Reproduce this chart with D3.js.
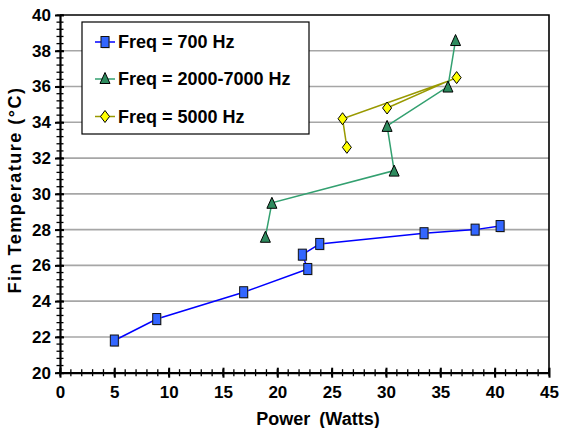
<!DOCTYPE html>
<html><head><meta charset="utf-8">
<script src="https://cdn.jsdelivr.net/npm/d3@7/dist/d3.min.js"></script>
<style>html,body{margin:0;padding:0;background:#fff;}svg{display:block;font-family:"Liberation Sans",Arial,sans-serif;font-weight:bold;}</style>
</head><body>
<svg id="c" width="562" height="428"></svg>
<script>
// ---- data ----
const seriesNames = ["Freq = 700 Hz", "Freq = 2000-7000 Hz", "Freq = 5000 Hz"];
const blueX = [5.0, 8.9, 16.9, 22.8, 22.3, 23.9, 33.5, 38.2, 40.5];
const blueY = [21.8, 23.0, 24.5, 25.8, 26.6, 27.2, 27.8, 28.0, 28.2];
const greenX = [18.9, 19.5, 30.75, 30.1, 35.7, 36.4];
const greenY = [27.6, 29.5, 31.3, 33.8, 36.0, 38.6];
const yellowX = [26.4, 26.0, 35.7, 36.5, 35.7, 30.1];
const yellowY = [32.6, 34.2, 36.3, 36.5, 36.3, 34.8];
const yellowMarker = [1, 1, 0, 1, 0, 1];
const xTicks = [0, 5, 10, 15, 20, 25, 30, 35, 40, 45];
const yTicks = [20, 22, 24, 26, 28, 30, 32, 34, 36, 38, 40];

const svg = d3.select("#c");
const x = d3.scaleLinear().domain([0, 45]).range([60, 549]);
const y = d3.scaleLinear().domain([20, 40]).range([372.7, 15]);

// gridlines
svg.append("g").selectAll("line").data(yTicks.filter(v => v > 20 && v < 40)).join("line")
  .attr("x1", x(0)).attr("x2", x(45)).attr("y1", d => y(d)).attr("y2", d => y(d))
  .attr("stroke", "#a6a6a6").attr("stroke-width", 1.6);

// top and right border
svg.append("path").attr("d", `M${x(0)},${y(40)}H${x(45)}V${y(20)}`)
  .attr("fill", "none").attr("stroke", "#000").attr("stroke-width", 1.6);

// minor ticks
const xMinor = d3.range(0, 45.01, 1);
svg.append("g").selectAll("line").data(xMinor).join("line")
  .attr("x1", d => x(d)).attr("x2", d => x(d)).attr("y1", y(20) - 3.5).attr("y2", y(20) + 3.5)
  .attr("stroke", "#000").attr("stroke-width", 1.3);
const yMinor = d3.range(20, 40.01, 0.4);
svg.append("g").selectAll("line").data(yMinor).join("line")
  .attr("x1", x(0) - 3.5).attr("x2", x(0) + 3.5).attr("y1", d => y(d)).attr("y2", d => y(d))
  .attr("stroke", "#000").attr("stroke-width", 1.3);

// axes
const xAxis = d3.axisBottom(x).tickValues(xTicks).tickSize(5).tickSizeOuter(0).tickPadding(8);
const gx = svg.append("g").attr("transform", `translate(0,${y(20)})`).call(xAxis);
gx.select(".domain").attr("stroke-width", 2.2);
gx.selectAll(".tick line").attr("stroke-width", 2).attr("y1", -5);
gx.selectAll(".tick text").attr("font-size", 17).attr("font-weight", "bold")
  .attr("font-family", "Liberation Sans, Arial, sans-serif").attr("fill", "#000");

const yAxis = d3.axisLeft(y).tickValues(yTicks).tickSize(5).tickSizeOuter(0).tickPadding(4);
const gy = svg.append("g").attr("transform", `translate(${x(0)},0)`).call(yAxis);
gy.select(".domain").attr("stroke-width", 2.2);
gy.selectAll(".tick line").attr("stroke-width", 2).attr("x1", 4);
gy.selectAll(".tick text").attr("font-size", 17).attr("font-weight", "bold")
  .attr("font-family", "Liberation Sans, Arial, sans-serif").attr("fill", "#000");

// axis titles
svg.append("text").attr("x", 318).attr("y", 425).attr("text-anchor", "middle")
  .attr("font-size", 18).attr("word-spacing", 4).text("Power (Watts)");
svg.append("text").attr("transform", `translate(21,190) rotate(-90)`).attr("text-anchor", "middle")
  .attr("font-size", 18).attr("letter-spacing", 1.5).text("Fin Temperature (°C)");

// marker helpers
const sqW = 8, sqH = 11;
function square(g, cx, cy) {
  g.append("rect").attr("x", cx - sqW / 2 + 1).attr("y", cy - sqH / 2 + 1).attr("width", sqW).attr("height", sqH)
    .attr("fill", "#999").attr("opacity", 0.5);
  g.append("rect").attr("x", cx - sqW / 2).attr("y", cy - sqH / 2).attr("width", sqW).attr("height", sqH)
    .attr("fill", "#3366ff").attr("stroke", "#111").attr("stroke-width", 1);
}
function tri(g, cx, cy) {
  g.append("path").attr("d", `M${cx},${cy - 6.5}L${cx + 5},${cy + 4.5}L${cx - 5},${cy + 4.5}Z`)
    .attr("fill", "#2e8b5e").attr("stroke", "#000").attr("stroke-width", 1);
}
function diamond(g, cx, cy) {
  g.append("path").attr("d", `M${cx},${cy - 6}L${cx + 4.5},${cy}L${cx},${cy + 6}L${cx - 4.5},${cy}Z`)
    .attr("fill", "#ffff00").attr("stroke", "#000").attr("stroke-width", 1);
}
const line = d3.line().x(d => x(d[0])).y(d => y(d[1]));

// blue series
const bPts = blueX.map((v, i) => [v, blueY[i]]);
const gb = svg.append("g");
gb.append("path").attr("d", line(bPts)).attr("fill", "none").attr("stroke", "#0000ff").attr("stroke-width", 1.5);
bPts.forEach(p => square(gb, x(p[0]), y(p[1])));

// yellow series
const yPts = yellowX.map((v, i) => [v, yellowY[i]]);
const gyel = svg.append("g");
gyel.append("path").attr("d", line(yPts)).attr("fill", "none").attr("stroke", "#999900").attr("stroke-width", 1.5);
yPts.forEach((p, i) => { if (yellowMarker[i]) diamond(gyel, x(p[0]), y(p[1])); });

// green series
const gPts = greenX.map((v, i) => [v, greenY[i]]);
const gg = svg.append("g");
gg.append("path").attr("d", line(gPts)).attr("fill", "none").attr("stroke", "#33a070").attr("stroke-width", 1.5);
gPts.forEach(p => tri(gg, x(p[0]), y(p[1]) + 1));

// legend
const lg = svg.append("g");
lg.append("rect").attr("x", 82).attr("y", 22).attr("width", 227).attr("height", 112)
  .attr("fill", "#fff").attr("stroke", "#000").attr("stroke-width", 1.2);
const rows = [42, 79, 116.5];
const lcolors = ["#0000ff", "#33a070", "#999900"];
const markers = [square, tri, diamond];
rows.forEach((ry, i) => {
  lg.append("line").attr("x1", 95).attr("x2", 115).attr("y1", ry).attr("y2", ry)
    .attr("stroke", lcolors[i]).attr("stroke-width", 1.5);
  markers[i](lg, 105, ry);
  lg.append("text").attr("x", 118).attr("y", ry + 6.3).attr("font-size", 18).text(seriesNames[i]);
});
</script>
</body></html>
